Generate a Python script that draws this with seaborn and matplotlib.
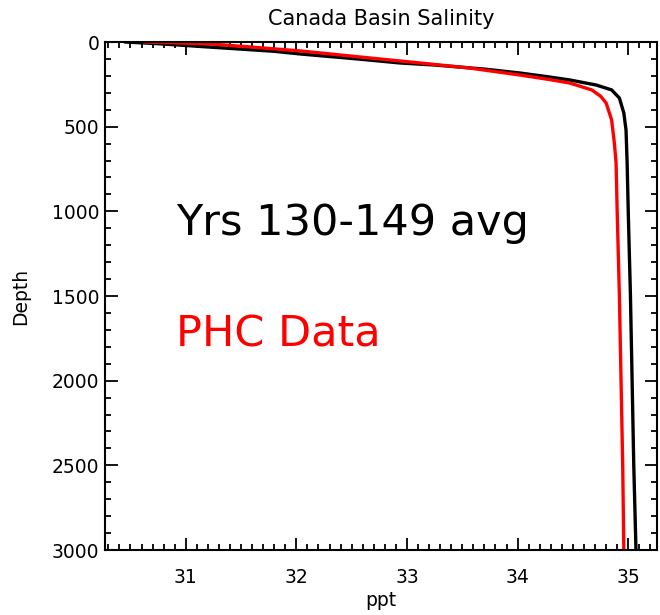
import matplotlib
matplotlib.use("Agg")
import matplotlib.pyplot as plt
import seaborn as sns
from matplotlib.ticker import MultipleLocator

# model average, years 130-149 (depth m, salinity ppt)
model_depth = [0, 10, 25, 40, 55, 71, 100, 124, 136, 160, 183, 205, 224, 254,
               283, 331, 419, 520, 715, 1000, 1500, 2000, 2500, 3000]
model_sal = [30.45, 30.75, 31.1, 31.45, 31.8, 32.04, 32.55, 32.94, 33.25, 33.7,
             34.02, 34.27, 34.47, 34.71, 34.85, 34.92, 34.96, 34.98, 34.99, 35.0,
             35.02, 35.035, 35.05, 35.07]

# PHC climatology
phc_depth = [0, 5, 12, 30, 53, 90, 124, 154, 175, 195, 220, 242, 283, 320, 360,
             461, 600, 715, 1000, 1500, 2000, 2500, 3000]
phc_sal = [30.62, 30.9, 31.23, 31.6, 32.04, 32.6, 33.12, 33.57, 33.8, 34.02, 34.27,
           34.47, 34.67, 34.75, 34.8, 34.85, 34.875, 34.89, 34.9, 34.92, 34.935,
           34.95, 34.96]

sns.set_theme(style="ticks")
plt.rcParams['font.family'] = ['DejaVu Sans']

fig = plt.figure(figsize=(6.6, 6.15), dpi=100)
ax = fig.add_axes([105 / 660, 65 / 615, 552 / 660, 508 / 615])

sns.lineplot(x=model_sal, y=model_depth, sort=False, estimator=None, color="black", lw=2.4, ax=ax)
sns.lineplot(x=phc_sal, y=phc_depth, sort=False, estimator=None, color="red", lw=2.4, ax=ax)

ax.set_xlim(30.27, 35.26)
ax.set_ylim(3000, 0)
ax.xaxis.set_major_locator(MultipleLocator(1))
ax.xaxis.set_minor_locator(MultipleLocator(0.1))
ax.yaxis.set_major_locator(MultipleLocator(500))
ax.yaxis.set_minor_locator(MultipleLocator(100))
ax.tick_params(which="both", direction="in", top=True, right=True, width=1.3,
               labelsize=13.5, colors="black")
ax.tick_params(which="major", length=9)
ax.tick_params(which="minor", length=4.5)
ax.tick_params(axis="x", pad=13)
ax.tick_params(axis="y", pad=4)
for s in ax.spines.values():
    s.set_linewidth(1.5)
    s.set_color("black")

ax.set_title("Canada Basin Salinity", fontsize=15, pad=12, color="black")
ax.set_xlabel("ppt", fontsize=13.5, labelpad=3, color="black")
ax.set_ylabel("Depth", fontsize=13.5, labelpad=16, color="black")

ax.text(30.91, 1140, "Yrs 130-149 avg", fontsize=31, color="black", va="baseline")
ax.text(30.91, 1801, "PHC Data", fontsize=31, color="red", va="baseline")

fig.savefig("out.png", dpi=100)
